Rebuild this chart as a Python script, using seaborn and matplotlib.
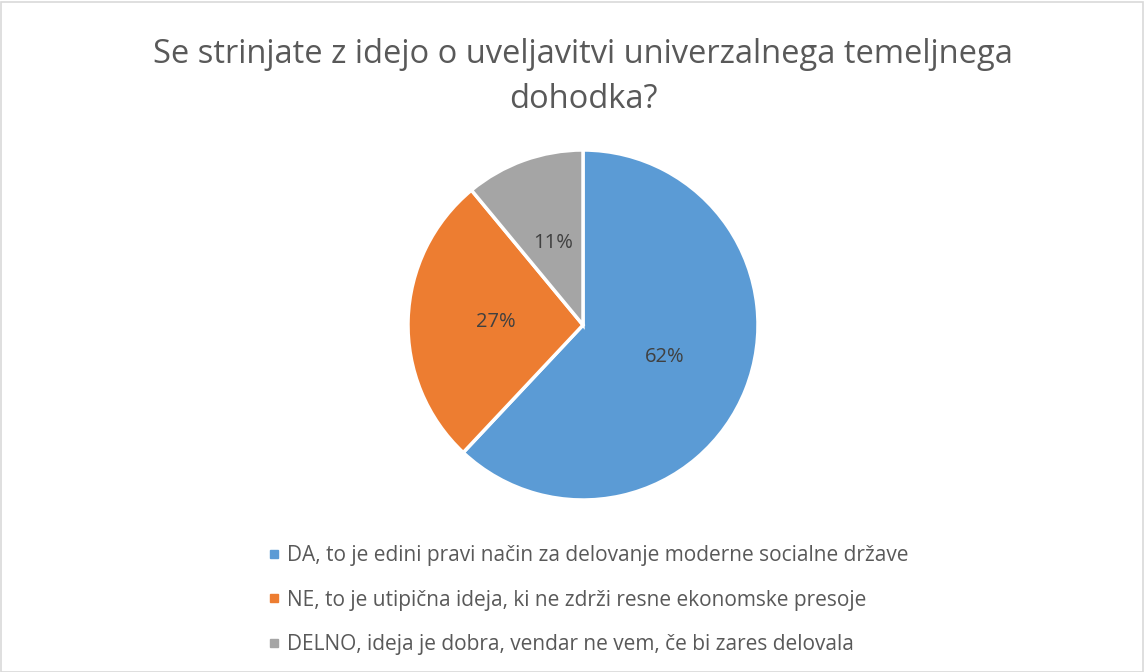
import numpy as np
import seaborn as sns
import matplotlib.pyplot as plt
from matplotlib.lines import Line2D
from matplotlib.patches import Rectangle

sns.set_theme(style="white")
plt.rcParams['font.family'] = ['Open Sans', 'DejaVu Sans']

# data
labels = ["DA, to je edini pravi način za delovanje moderne socialne države",
          "NE, to je utipična ideja, ki ne zdrži resne ekonomske presoje",
          "DELNO, ideja je dobra, vendar ne vem, če bi zares delovala"]
shares = [62, 27, 11]
colors = ["#5B9BD5", "#ED7D31", "#A5A5A5"]
title = "Se strinjate z idejo o uveljavitvi univerzalnega temeljnega\ndohodka?"

W, H = 1145, 672
fig = plt.figure(figsize=(W / 100, H / 100), dpi=100)
fig.patch.set_facecolor("white")

# pie axes: centre ~ (583, 325) px, radius ~175 px
cx, cy, r = 583, 325, 175
ax = fig.add_axes([(cx - r) / W, (H - cy - r) / H, 2 * r / W, 2 * r / H])
wedges, texts, autotexts = ax.pie(
    shares, colors=colors, startangle=90, counterclock=False,
    autopct='%1.0f%%', pctdistance=0.5,
    wedgeprops=dict(edgecolor="white", linewidth=2.5),
    textprops=dict(color="#404040", fontsize=14.5))
ax.set_xlim(-1, 1)
ax.set_ylim(-1, 1)
ax.set_aspect("equal")
ax.axis("off")

fig.text(cx / W, 1 - 77 / H, title, ha="center", va="center",
         fontsize=23.5, color="#595959", linespacing=1.5)

handles = [Line2D([0], [0], marker='s', linestyle='', markersize=6,
                  markerfacecolor=c, markeredgecolor=c) for c in colors]
leg = fig.legend(handles, labels, loc="upper left",
                 bbox_to_anchor=(259 / W, 1 - 537 / H), frameon=False,
                 fontsize=15, labelcolor="#595959", handlelength=0.6,
                 handletextpad=0.35, labelspacing=1.12, borderaxespad=0)

# light frame around the chart area
fig.add_artist(Rectangle((1 / W, 0), 1 - 3 / W, 1 - 2 / H, transform=fig.transFigure,
                         fill=False, edgecolor="#D9D9D9", linewidth=1.2))

fig.savefig("out.png", dpi=100, facecolor="white")
